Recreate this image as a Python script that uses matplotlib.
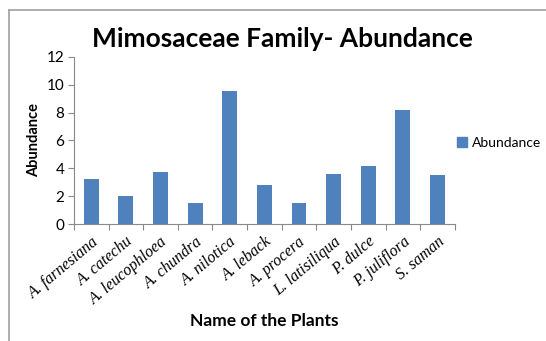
import matplotlib.pyplot as plt
from matplotlib.lines import Line2D
from matplotlib.patches import Patch

plantas = ['A. farnesiana', 'A. catechu', 'A. leucophloea', 'A. chundra',
           'A. nilotica', 'A. leback', 'A. procera', 'L. latisiliqua',
           'P. dulce', 'P. juliflora', 'S. saman']
abundancia = [3.2, 2.0, 3.75, 1.5, 9.55, 2.8, 1.5, 3.6, 4.15, 8.2, 3.5]
yticks = [0, 2, 4, 6, 8, 10, 12]

azul = '#4F81BD'
cinza = '#898989'
fonte = 'Lato'

fig = plt.figure(figsize=(5.46, 3.41), dpi=100)
ax = fig.add_axes([0.1355, 0.343, 0.6975, 0.49])

x = list(range(len(plantas)))
ax.bar(x, abundancia, width=0.43, color=azul, label='Abundance')

ax.set_xlim(-0.5, len(plantas) - 0.5)
ax.set_ylim(0, 12)
ax.set_yticks(yticks)
ax.tick_params(axis='y', labelsize=11, length=4, color=cinza, pad=3)
for t in ax.get_yticklabels():
    t.set_family(fonte)

# ticks do eixo x nas fronteiras entre categorias
ax.set_xticks([i - 0.5 for i in range(len(plantas) + 1)], minor=False)
ax.set_xticklabels([])
ax.set_xticks(x, minor=True)
ax.set_xticklabels(plantas, minor=True, rotation=40, ha='right',
                   rotation_mode='anchor', fontsize=11.5,
                   family='Liberation Serif', style='italic')
ax.tick_params(axis='x', which='major', length=4, color=cinza)
ax.tick_params(axis='x', which='minor', length=0, pad=7)

for lado in ['top', 'right']:
    ax.spines[lado].set_visible(False)
for lado in ['left', 'bottom']:
    ax.spines[lado].set_color(cinza)

ax.set_ylabel('Abundance', fontsize=10.5, fontweight='bold', family=fonte)
ax.set_xlabel('Name of the Plants', fontsize=12.5, fontweight='bold',
              family=fonte, labelpad=4)
fig.text(0.517, 0.885, 'Mimosaceae Family- Abundance', fontsize=19,
         fontweight='bold', family=fonte, ha='center', va='center')

fig.legend(handles=[Patch(color=azul, label='Abundance')],
           loc='center left', bbox_to_anchor=(457 / 546, 0.58), frameon=False,
           borderpad=0, borderaxespad=0,
           handlelength=0.75, handleheight=0.75, handletextpad=0.3,
           prop={'family': fonte, 'size': 10})

# moldura cinza à esquerda e em cima
fig.add_artist(Line2D([9 / 546, 9 / 546], [0, 1 - 10 / 341],
                      transform=fig.transFigure, color='#a0a0a0', lw=1.2))
fig.add_artist(Line2D([9 / 546, 1], [1 - 10 / 341, 1 - 10 / 341],
                      transform=fig.transFigure, color='#a0a0a0', lw=1.2))

fig.savefig('out.png', dpi=100)
